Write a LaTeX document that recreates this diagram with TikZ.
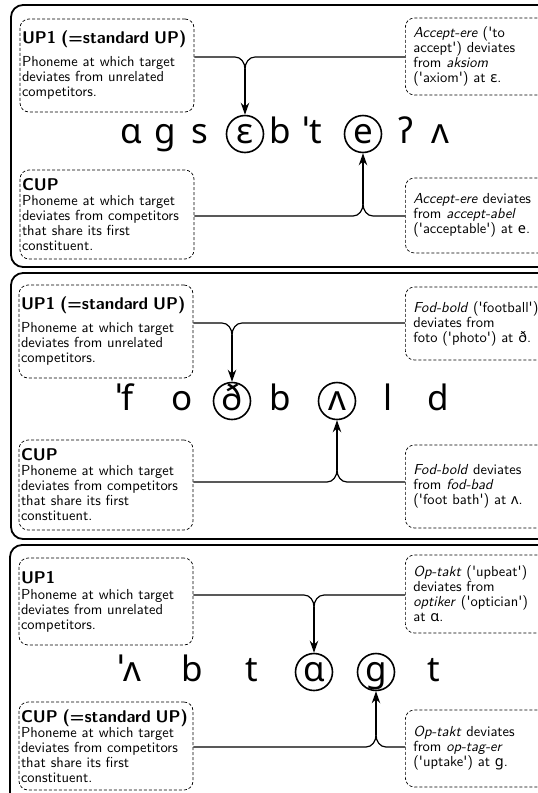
\documentclass[tikz,border=0pt]{standalone}
\usepackage{fontspec}
\setsansfont{lmsans10}[Extension=.otf, UprightFont=*-regular, BoldFont=*-bold, ItalicFont=*-oblique, BoldItalicFont=*-boldoblique]
\newfontfamily\ipafont{Noto Sans}
\renewcommand{\familydefault}{\sfdefault}
\usetikzlibrary{arrows.meta}
\newcommand{\head}[1]{{\fontsize{17}{19}\selectfont\bfseries #1}}
\newcommand{\q}{\textquotesingle}
\newcommand{\ipa}[1]{{\ipafont #1}}

\begin{document}
\begin{tikzpicture}[
			x=1pt, y=-1pt,
			panel/.style={draw, line width=1.8pt, rounded corners=12pt},
			leftbox/.style={draw, dash pattern=on 3pt off 2pt, line width=0.7pt, rounded corners=9pt, text width=170pt, inner xsep=2pt, inner ysep=2pt, align=left, font=\fontsize{14.5}{15}\selectfont},
			notebox/.style={leftbox, text width=135pt, inner xsep=8pt, anchor=west},
			phone/.style={font=\ipafont\fontsize{35}{37}\selectfont, inner sep=0pt, anchor=base},
			target/.style={font=\ipafont\fontsize{35}{37}\selectfont, circle, draw, line width=1.6pt, inner sep=0pt, minimum size=37pt, text height=19pt, text depth=0pt},
			link/.style={line width=1.2pt},
			arrow/.style={link, -{Stealth[length=12pt, width=8.5pt]}}
			]
			\useasboundingbox (0,0) rectangle (538,793);
			\draw[panel] (11,5) rectangle (552,267);
			\draw[panel] (11,273) rectangle (552,539);
			\draw[panel] (10,545) rectangle (552,805);
			
			% panel 1: accept-ere
			\node[leftbox, minimum height=93pt] (up1) at (107,65.5) {\head{UP1 (=standard UP)}\\[8pt] Phoneme at which target\\ deviates from unrelated\\ competitors.};
			\node[leftbox, minimum height=89pt] (cup1) at (107,214.5) {\head{CUP}\\ Phoneme at which target\\ deviates from competitors\\ that share its first\\ constituent.};
			\node[notebox, minimum height=77pt] (ra1) at (405,56.5) {\textit{Accept-ere} (\q to\\ accept\q) deviates\\ from \textit{aksiom}\\ (\q axiom\q) at \ipa{ɛ}.};
			\node[notebox, minimum height=75pt] (rb1) at (405,215.5) {\textit{Accept-ere} deviates\\ from \textit{accept-abel}\\ (\q acceptable\q) at \ipa{e}.};
			
			\node[phone] (a1) at (131,143.5) {ɑ};
			\node[phone] (g1) at (165,143.5) {ɡ};
			\node[phone] (s1) at (200,143.5) {s};
			\node[target] (eps1) at (245,134) {ɛ};
			\node[phone] (b1) at (280,143.5) {b};
			\node[phone] (t1) at (313,143.5) {ˈt};
			\node[target] (e1) at (363,134) {e};
			\node[phone] (q1) at (406,143.5) {ʔ};
			\node[phone] (v1) at (440,143.5) {ʌ};
			
			\coordinate (j1) at (245,57);
			\coordinate (k1) at (245,69);
			\draw[link] (up1.east |- j1) -- ([xshift=-10pt]j1) to[out=0, in=90] (k1);
			\draw[link] (ra1.west |- j1) -- ([xshift=10pt]j1) to[out=180, in=90] (k1);
			\draw[arrow] (k1) -- (eps1.north);
			\coordinate (j2) at (363,216);
			\coordinate (k2) at (363,204);
			\draw[link] (cup1.east |- j2) -- ([xshift=-10pt]j2) to[out=0, in=-90] (k2);
			\draw[link] (rb1.west |- j2) -- ([xshift=10pt]j2) to[out=180, in=-90] (k2);
			\draw[arrow] (k2) -- (e1.south);
			
			% panel 2: fod-bold
			\node[leftbox, minimum height=93pt] (up2) at (106,331.5) {\head{UP1 (=standard UP)}\\[8pt] Phoneme at which target\\ deviates from unrelated\\ competitors.};
			\node[leftbox, minimum height=90pt] (cup2) at (106,485) {\head{CUP}\\ Phoneme at which target\\ deviates from competitors\\ that share its first\\ constituent.};
			\node[notebox, minimum height=73pt] (ra2) at (405,323.5) {\textit{Fod-bold} (\q football\q)\\ deviates from\\ foto (\q photo\q) at \ipa{ð}.};
			\node[notebox, minimum height=83pt] (rb2) at (405,486.5) {\textit{Fod-bold} deviates\\ from \textit{fod-bad}\\ (\q foot bath\q) at \ipa{ʌ}.};
			
			\node[phone] (f2) at (125,410.5) {ˈf};
			\node[phone] (o2) at (182,410.5) {o};
			\node[target] (dh2) at (232,401) {ð};
			\node[phone] (b2) at (280,410.5) {b};
			\node[target] (v2) at (337,401) {ʌ};
			\node[phone] (l2) at (388,410.5) {l};
			\node[phone] (d2) at (438,410.5) {d};
			
			\coordinate (j3) at (232,323);
			\coordinate (k3) at (232,335);
			\draw[link] (up2.east |- j3) -- ([xshift=-10pt]j3) to[out=0, in=90] (k3);
			\draw[link] (ra2.west |- j3) -- ([xshift=10pt]j3) to[out=180, in=90] (k3);
			\draw[arrow] (k3) -- (dh2.north);
			\coordinate (j4) at (337,482);
			\coordinate (k4) at (337,470);
			\draw[link] (cup2.east |- j4) -- ([xshift=-10pt]j4) to[out=0, in=-90] (k4);
			\draw[link] (rb2.west |- j4) -- ([xshift=10pt]j4) to[out=180, in=-90] (k4);
			\draw[arrow] (k4) -- (v2.south);
			
			% panel 3: op-takt
			\node[leftbox, minimum height=87pt] (up3) at (106,601.5) {\head{UP1}\\[1pt] Phoneme at which target\\ deviates from unrelated\\ competitors.};
			\node[leftbox, minimum height=88pt] (cup3) at (106,746) {\head{CUP (=standard UP)}\\ Phoneme at which target\\ deviates from competitors\\ that share its first\\ constituent.};
			\node[notebox, minimum height=78pt] (ra3) at (405,594) {\textit{Op-takt} (\q upbeat\q)\\ deviates from\\ \textit{optiker} (\q optician\q)\\ at \ipa{ɑ}.};
			\node[notebox, minimum height=77pt] (rb3) at (405,748.5) {\textit{Op-takt} deviates\\ from \textit{op-tag-er}\\ (\q uptake\q) at \ipa{ɡ}.};
			
			\node[phone] (v3) at (130,681.5) {ˈʌ};
			\node[phone] (b3) at (192,681.5) {b};
			\node[phone] (t3) at (252,681.5) {t};
			\node[target] (a3) at (314,672) {ɑ};
			\node[target] (g3) at (376,672) {ɡ};
			\node[phone] (tt3) at (434,681.5) {t};
			
			\coordinate (j5) at (314,595);
			\coordinate (k5) at (314,607);
			\draw[link] (up3.east |- j5) -- ([xshift=-10pt]j5) to[out=0, in=90] (k5);
			\draw[link] (ra3.west |- j5) -- ([xshift=10pt]j5) to[out=180, in=90] (k5);
			\draw[arrow] (k5) -- (a3.north);
			\coordinate (j6) at (376,747);
			\coordinate (k6) at (376,735);
			\draw[link] (cup3.east |- j6) -- ([xshift=-10pt]j6) to[out=0, in=-90] (k6);
			\draw[link] (rb3.west |- j6) -- ([xshift=10pt]j6) to[out=180, in=-90] (k6);
			\draw[arrow] (k6) -- (g3.south);
		\end{tikzpicture}
\end{document}
